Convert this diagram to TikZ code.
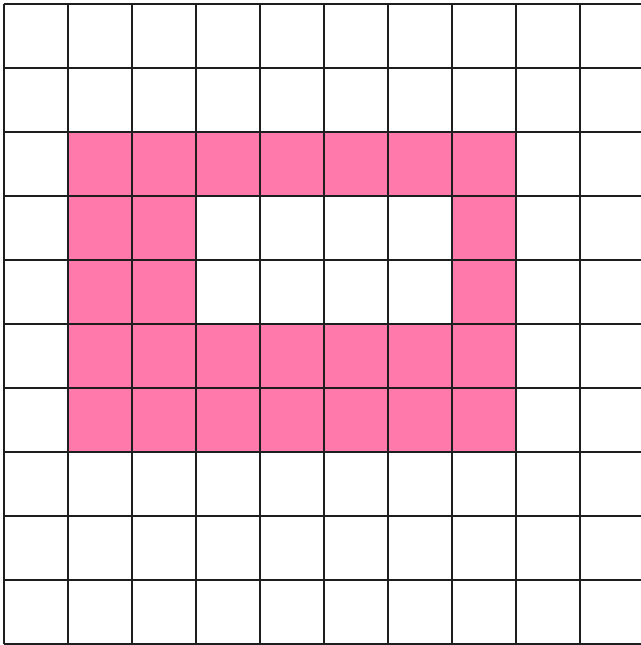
\documentclass[tikz,border=0pt]{standalone}
\usepackage{tikz}
\definecolor{mypink}{RGB}{255,122,170}
\definecolor{mygrid}{RGB}{30,30,30}
\tikzset{
  filled/.style={fill=mypink, draw=none},
  gridline/.style={draw=mygrid, line width=0.75pt}
}

\begin{document}
\begin{tikzpicture}[y=-1cm]
  \useasboundingbox (-0.0625,-0.0625) rectangle (9.953,10.016);
  % pink ring of cells
  \foreach \col in {1,...,7}
    \foreach \row in {2,...,6}
      \path[filled] (\col,\row) rectangle ++(1,1);
  \fill[white] (3,3) rectangle (7,5);
  % grid
  \foreach \i in {0,...,10} {
    \draw[gridline] (\i,0) -- (\i,10);
    \draw[gridline] (0,\i) -- (10,\i);
  }
\end{tikzpicture}
\end{document}
